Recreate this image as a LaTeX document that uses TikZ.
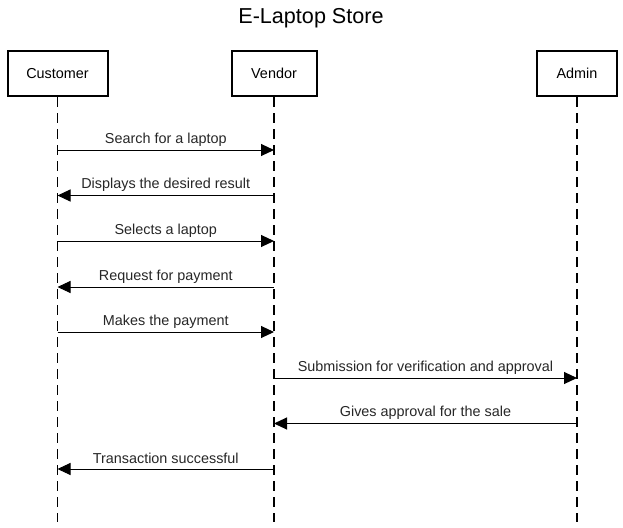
\documentclass[tikz,border=0pt]{standalone}
\usepackage{fontspec}
\setmainfont{Liberation Sans}
\usetikzlibrary{arrows.meta}
\tikzset{
    actor/.style={draw, line width=2pt, minimum height=45pt, inner sep=0pt, font=\fontsize{14.4}{17}\selectfont},
    lifeline/.style={line width=1.2pt, dash pattern=on 10pt off 6pt},
    msg/.style={line width=1pt, -{Triangle[length=13pt,width=12pt]}},
    msglabel/.style={midway, yshift=10.5pt, font=\fontsize{14.4}{17}\selectfont, text=black!85}
}

\begin{document}
\begin{tikzpicture}[x=1pt, y=-1pt]
    \useasboundingbox (0,0) rectangle (623,527);
    \node[font=\fontsize{21.6}{26}\selectfont] (title) at (311,18) {E-Laptop Store};
    \node[actor, minimum width=100pt] (cust) at (57.5,73.5) {Customer};
    \node[actor, minimum width=85pt] (vend) at (274,73.5) {Vendor};
    \node[actor, minimum width=80pt] (admin) at (577,73.5) {Admin};
    \coordinate (custend) at (cust |- 0,522);
    \coordinate (vendend) at (vend |- 0,522);
    \coordinate (adminend) at (admin |- 0,522);
    \draw[lifeline] (cust.south) -- (custend);
    \draw[lifeline] (vend.south) -- (vendend);
    \draw[lifeline] (admin.south) -- (adminend);
    \draw[msg] (cust |- 0,150) -- (vend |- 0,150) node[msglabel] {Search for a laptop};
    \draw[msg] (vend |- 0,195.5) -- (cust |- 0,195.5) node[msglabel] {Displays the desired result};
    \draw[msg] (cust |- 0,241) -- (vend |- 0,241) node[msglabel] {Selects a laptop};
    \draw[msg] (vend |- 0,287) -- (cust |- 0,287) node[msglabel] {Request for payment};
    \draw[msg] (cust |- 0,332) -- (vend |- 0,332) node[msglabel] {Makes the payment};
    \draw[msg] (vend |- 0,378) -- (admin |- 0,378) node[msglabel] {Submission for verification and approval};
    \draw[msg] (admin |- 0,423.5) -- (vend |- 0,423.5) node[msglabel] {Gives approval for the sale};
    \draw[msg] (vend |- 0,469) -- (cust |- 0,469) node[msglabel] {Transaction successful};
\end{tikzpicture}
\end{document}
